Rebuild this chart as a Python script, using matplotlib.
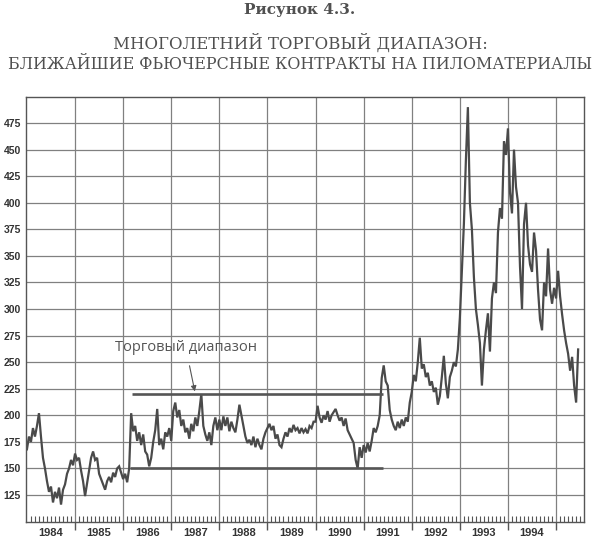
import numpy as np
import matplotlib
matplotlib.use("Agg")
import matplotlib.pyplot as plt

# ближайшие фьючерсы на пиломатериалы, полумесячные значения
p1984 = [168, 180, 175, 188, 180, 190, 202, 180, 160, 150, 138, 128,
         133, 118, 128, 122, 132, 116, 130, 135, 145, 150, 158, 153]
p1985 = [164, 158, 160, 148, 138, 124, 136, 148, 160, 166, 158, 160,
         145, 140, 135, 130, 138, 142, 137, 146, 142, 150, 152, 146]
p1986 = [140, 145, 137, 150, 202, 185, 190, 176, 184, 172, 182, 166,
         163, 152, 160, 175, 186, 206, 172, 178, 168, 184, 180, 188]
p1987 = [176, 204, 212, 198, 205, 190, 196, 184, 188, 178, 192, 185,
         198, 190, 204, 220, 190, 182, 176, 184, 172, 190, 198, 186]
p1988 = [196, 186, 199, 190, 198, 185, 194, 188, 184, 196, 210, 200,
         190, 180, 174, 177, 172, 180, 170, 178, 172, 168, 178, 184]
p1989 = [188, 192, 186, 190, 178, 182, 172, 170, 178, 184, 180, 188,
         184, 191, 186, 188, 183, 188, 184, 187, 183, 190, 188, 194]
p1990 = [194, 209, 198, 193, 200, 196, 204, 194, 200, 203, 206, 200,
         195, 198, 190, 197, 186, 182, 178, 174, 158, 150, 170, 160]
p1991 = [172, 165, 174, 166, 176, 188, 184, 190, 200, 235, 247, 232,
         228, 205, 196, 190, 186, 194, 188, 196, 190, 198, 194, 212]
p1992 = [222, 238, 232, 250, 273, 244, 248, 236, 240, 228, 232, 222,
         226, 210, 218, 236, 256, 230, 216, 236, 242, 250, 246, 262]
p1993 = [292, 335, 380, 440, 490, 400, 375, 330, 300, 285, 268, 228,
         262, 280, 296, 260, 310, 325, 315, 372, 395, 385, 458, 445]
p1994 = [470, 410, 390, 450, 415, 400, 340, 300, 380, 400, 360, 342,
         335, 372, 355, 318, 290, 280, 325, 312, 357, 318, 305, 320]
p1995 = [310, 336, 312, 295, 280, 268, 258, 242, 255, 228, 212, 262]

prices = p1984 + p1985 + p1986 + p1987 + p1988 + p1989 + p1990 + \
         p1991 + p1992 + p1993 + p1994 + p1995
t = 1984 + np.arange(len(prices)) / 24.0

# торговый диапазон
range_low = 150
range_high = 220
range_start = 1986.15
range_end = 1991.40

years = list(range(1984, 1995))
yticks = list(range(125, 500, 25))

fig = plt.figure(figsize=(6, 5.4), dpi=100)
ax = fig.add_axes([0.0433, 0.0333, 0.93, 0.787])

gray = "#555555"
ax.plot(t, prices, color="#4a4a4a", lw=1.6, solid_joinstyle="miter")
ax.hlines(range_high, range_start + 0.03, range_end, color=gray, lw=1.9)
ax.hlines(range_low, range_start, range_end, color=gray, lw=1.9)

ax.set_xlim(1983.98, 1995.58)
ax.set_ylim(99.6, 499.5)

ax.set_yticks(yticks)
ax.set_yticklabels([str(v) for v in yticks], fontsize=7.5, fontweight="bold",
                   family="Liberation Sans", color="#333333")
ax.tick_params(axis="y", length=0, pad=3.5)

ax.set_xticks(np.arange(1985, 1996))
ax.set_xticklabels([])
ax.set_xticks(1984 + np.arange(1, 12 * 11 + 7) / 12.0, minor=True)
ax.tick_params(axis="x", which="major", direction="out", length=6, width=1, color=gray)
ax.tick_params(axis="x", which="minor", direction="in", length=4, width=0.8, color=gray)

sec = ax.secondary_xaxis("bottom")
sec.set_xticks([y + 0.5 for y in years])
sec.set_xticklabels([str(y) for y in years], fontsize=8, fontweight="bold",
                    family="Liberation Sans", color="#333333")
sec.tick_params(length=0, pad=4.5)
sec.spines["bottom"].set_visible(False)

ax.grid(True, which="major", color="#808080", lw=0.9)
ax.set_axisbelow(True)
for s in ax.spines.values():
    s.set_color(gray)
    s.set_linewidth(1.0)

ax.annotate("Торговый диапазон", xy=(1987.49, 222.5), xytext=(1987.30, 264),
            ha="center", va="center", fontsize=10.5, family="Open Sans",
            color="#555555",
            arrowprops=dict(arrowstyle="-|>", color=gray, lw=0.8,
                            mutation_scale=8, shrinkA=6, shrinkB=0))

fig.text(0.5, 0.981, "Рисунок 4.3.", ha="center", va="center", fontsize=11,
         fontweight="bold", family="DejaVu Serif", color="#505050")
fig.text(0.5, 0.920, "МНОГОЛЕТНИЙ ТОРГОВЫЙ ДИАПАЗОН:", ha="center", va="center",
         fontsize=11.9, family="DejaVu Serif", color="#505050")
fig.text(0.5, 0.881, "БЛИЖАЙШИЕ ФЬЮЧЕРСНЫЕ КОНТРАКТЫ НА ПИЛОМАТЕРИАЛЫ", ha="center",
         va="center", fontsize=11.4, family="DejaVu Serif", color="#505050")

fig.savefig("out.png", dpi=100)
